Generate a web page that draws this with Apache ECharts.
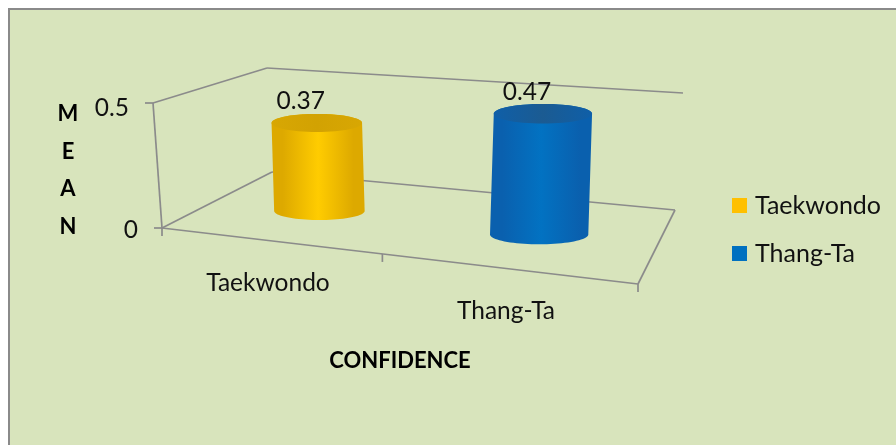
<!DOCTYPE html>
<html>
<head>
<meta charset="utf-8">
<style>
  html, body { margin: 0; padding: 0; background: #fff; overflow: hidden; }
  #panel { position: absolute; left: 8px; top: 8px; width: 900px; height: 450px;
           box-sizing: border-box; background: #D8E4BC;
           border-top: 2px solid #8a8a8a; border-left: 2px solid #8a8a8a; }
  #chart { position: absolute; left: 0; top: 0; width: 896px; height: 445px; }
</style>
</head>
<body>
<div id="panel"></div>
<div id="chart"></div>
<script src="https://cdn.jsdelivr.net/npm/echarts@6/dist/echarts.min.js"></script>
<script>
// Mean confidence scores by martial art
const categories = ['Taekwondo', 'Thang-Ta'];
const meanValues = [0.37, 0.47];
const valueTicks = [0, 0.5];
const xTitle = 'CONFIDENCE';
const yTitle = 'M\nE\nA\nN';

const TEXT_FONT = 'Lato, "Open Sans", sans-serif';
const LINE = '#8b8b8b';

// Perspective box: floor corners and the "up" vector at each corner
const floor = { fl: [162, 228], fr: [638, 284], bl: [272, 172], br: [675, 210] };
const lift = { fl: [-9, -125], fr: [8, -150], bl: [-5, -104], br: [8, -117] };

const palettes = [
  { legend: '#FFC000', edge: '#DDA900', mid: '#FFCC00', top: '#D8A703', topMid: '#D2A202' },
  { legend: '#0070C0', edge: '#0A60AE', mid: '#0272C2', top: '#0F5FA8', topMid: '#1B5B92' }
];

function bilerp(c, u, d) {
  return [0, 1].map(i => {
    const front = c.fl[i] + (c.fr[i] - c.fl[i]) * u;
    const back = c.bl[i] + (c.br[i] - c.bl[i]) * u;
    return front + (back - front) * d;
  });
}

// u: along the category axis, t: fraction of the value axis, d: depth into the box
function project(u, t, d) {
  const b = bilerp(floor, u, d);
  const l = bilerp(lift, u, d);
  return [b[0] + l[0] * t, b[1] + l[1] * t];
}

function toUnit(api, params, category, value) {
  const p = api.coord([category, value]);
  const g = params.coordSys;
  return { u: (p[0] - g.x) / g.width, t: (g.y + g.height - p[1]) / g.height };
}

function line(a, b, z2) {
  return {
    type: 'line', z2: z2 || 0,
    shape: { x1: a[0], y1: a[1], x2: b[0], y2: b[1] },
    style: { stroke: LINE, lineWidth: 1.7 }
  };
}

function label(text, x, y, align) {
  return {
    type: 'text', z2: 5,
    style: { text, x, y, align: align || 'center', verticalAlign: 'middle',
             fill: '#111', font: '24.5px ' + TEXT_FONT }
  };
}

// Walls, floor, ticks and tick labels of the box
function renderFrame(params, api) {
  const children = [];
  const at = project;
  const topUnit = toUnit(api, params, 0, valueTicks[valueTicks.length - 1]).t;
  children.push(line(at(0, 0, 0), at(0, topUnit, 0)));
  children.push(line(at(0, topUnit, 0), at(0, topUnit, 1)));
  children.push(line(at(0, topUnit, 1), at(1, topUnit, 1)));
  children.push(line(at(0, 0, 0), at(0, 0, 1)));
  children.push(line(at(0, 0, 1), at(1, 0, 1)));
  children.push(line(at(1, 0, 1), at(1, 0, 0)));
  children.push(line(at(0, 0, 0), at(1, 0, 0)));

  valueTicks.forEach(v => {
    const t = toUnit(api, params, 0, v).t;
    const p = at(0, t, 0);
    children.push(line([p[0] - 8, p[1]], p));
    children.push(label(String(v), p[0] - 24, p[1] + 2 + 3 * t, 'right'));
  });
  // Band boundaries on the front edge; the middle one is foreshortened
  [0, 0.463, 1].forEach(u => {
    const p = at(u, 0, 0);
    children.push(line(p, [p[0], p[1] + 8]));
  });
  categories.forEach((name, i) => {
    const u = toUnit(api, params, i, 0).u;
    const p = at(u, 0, 0);
    children.push(label(name, p[0] - 13, p[1] + 41));
  });
  return { type: 'group', children };
}

function ellipseArc(c, rx, ry, from, to, n) {
  const pts = [];
  for (let i = 0; i <= n; i++) {
    const a = from + (to - from) * i / n;
    pts.push([c[0] + rx * Math.cos(a), c[1] + ry * Math.sin(a)]);
  }
  return pts;
}

// One cylinder standing mid-depth in its category band
function renderCylinder(params, api) {
  const cat = api.value(0);
  const val = api.value(1);
  const pal = palettes[cat];
  const { u, t } = toUnit(api, params, cat, val);
  const uShifted = u - 0.017;
  const base = project(uShifted, 0, 0.5);
  const head = project(uShifted, t, 0.5);
  const rx = 43.3 * (1 + 0.18 * u);
  const ry = rx * 0.2;
  const sideFill = new echarts.graphic.LinearGradient(0, 0, 1, 0, [
    { offset: 0, color: pal.edge }, { offset: 0.12, color: pal.edge },
    { offset: 0.5, color: pal.mid },
    { offset: 0.88, color: pal.edge }, { offset: 1, color: pal.edge }
  ]);
  const topFill = new echarts.graphic.LinearGradient(0, 0, 1, 0, [
    { offset: 0, color: pal.top }, { offset: 0.5, color: pal.topMid }, { offset: 1, color: pal.top }
  ]);
  const body = ellipseArc(base, rx, ry, Math.PI, 0, 40)
    .concat(ellipseArc(head, rx, ry, 0, -Math.PI, 40));
  return {
    type: 'group',
    children: [
      { type: 'polygon', z2: 2, shape: { points: body }, style: { fill: sideFill } },
      { type: 'polygon', z2: 3, shape: { points: ellipseArc(head, rx, ry, 0, 2 * Math.PI, 60) },
        style: { fill: topFill } },
      label(String(val), head[0] - 16, head[1] - 21.5)
    ]
  };
}

const chart = echarts.init(document.getElementById('chart'));
chart.setOption({
  animation: false,
  backgroundColor: 'transparent',
  grid: { left: 162, width: 476, top: 113, height: 115 },
  legend: {
    orient: 'vertical', left: 727, top: 188, itemWidth: 15, itemHeight: 15, itemGap: 23,
    icon: 'rect', data: categories,
    textStyle: { fontFamily: TEXT_FONT, fontSize: 25, color: '#111', padding: [0, 0, 0, 3] }
  },
  xAxis: {
    type: 'category', data: categories,
    axisLine: { show: false }, axisTick: { show: false }, axisLabel: { show: false },
    name: xTitle, nameLocation: 'middle', nameGap: 122,
    nameTextStyle: { fontFamily: TEXT_FONT, fontWeight: 'bold', fontSize: 22, color: '#000' }
  },
  yAxis: {
    type: 'value', min: 0, max: valueTicks[1], interval: valueTicks[1],
    splitLine: { show: false }, axisLine: { show: false }, axisTick: { show: false },
    axisLabel: { show: false },
    name: yTitle, nameLocation: 'middle', nameGap: 94, nameRotate: 0,
    nameTextStyle: { fontFamily: TEXT_FONT, fontWeight: 'bold', fontSize: 22, color: '#000',
                     lineHeight: 37.5, align: 'center' }
  },
  series: [
    { type: 'custom', name: 'frame', silent: true, z: 1, renderItem: renderFrame, data: [[0, 0]] }
  ].concat(categories.map((name, i) => ({
    type: 'custom', name, z: 2, renderItem: renderCylinder,
    itemStyle: { color: palettes[i].legend },
    data: [[i, meanValues[i]]]
  })))
});
</script>
</body>
</html>
